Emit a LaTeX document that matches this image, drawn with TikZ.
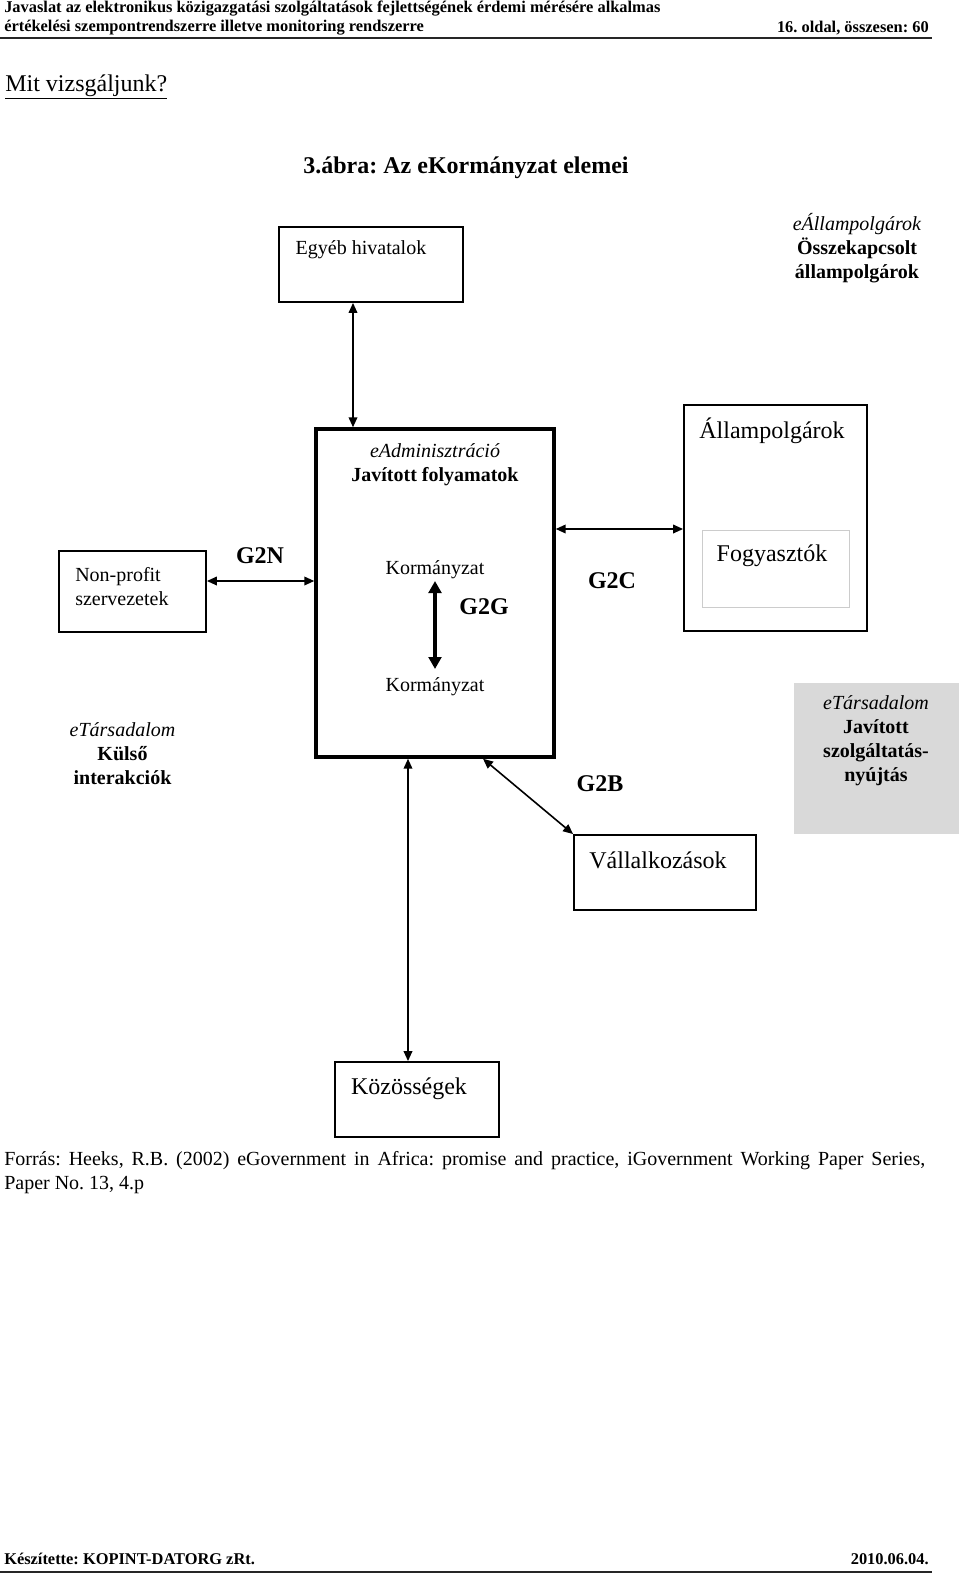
\documentclass[tikz,border=0pt]{standalone}
\usepackage{fontspec}
\setmainfont{Liberation Serif}
\usetikzlibrary{arrows.meta,calc}
\begin{document}
\frenchspacing
\begin{tikzpicture}[x=0.75pt,y=-0.75pt,
  box/.style={draw, line width=1.4pt, inner sep=0pt},
  mainbox/.style={draw, line width=2.6pt, inner sep=0pt},
  lbl/.style={inner sep=0pt, font=\fontsize{15pt}{18pt}\selectfont, align=center},
  big/.style={inner sep=0pt, font=\fontsize{18pt}{21pt}\selectfont},
  gx/.style={inner sep=0pt, font=\fontsize{18pt}{21pt}\selectfont\bfseries},
  hdr/.style={inner sep=0pt, font=\fontsize{12.3pt}{14pt}\selectfont\bfseries},
  conn/.style={line width=1.2pt, {Triangle[length=7.5pt,width=6.5pt]}-{Triangle[length=7.5pt,width=6.5pt]}},
  thickconn/.style={line width=2.4pt, {Triangle[length=9pt,width=9.5pt]}-{Triangle[length=9pt,width=9.5pt]}}
]
\useasboundingbox (0,0) rectangle (960,1575);
% header
\node[hdr, anchor=west] (h1) at (4,9) {Javaslat az elektronikus közigazgatási szolgáltatások fejlettségének érdemi mérésére alkalmas};
\node[hdr, anchor=west] (h2) at (4,28) {értékelési szempontrendszerre illetve monitoring rendszerre};
\node[hdr, anchor=east] (h3) at (929,28) {16. oldal, összesen: 60};
\coordinate (hrl) at (0,38);
\coordinate (hrr) at (932,38);
\draw[line width=1.5pt, black!85] (hrl) -- (hrr);
\node[big, anchor=west] (mit) at (5,87) {\underline{Mit vizsgáljunk?}};
\node[gx] (title) at (466,168) {3.ábra: Az eKormányzat elemei};

% boxes
\node[box, minimum width=138pt, minimum height=56.25pt] (egyeb) at (371,264.5) {};
\node[mainbox, minimum width=178.5pt, minimum height=246pt] (main) at (435,593) {};
\node[box, minimum width=137.25pt, minimum height=169.5pt] (allam) at (775.5,518) {};
\node[draw=black!20, line width=0.6pt, minimum width=110.25pt, minimum height=57.75pt, inner sep=0pt] (fogy) at (775.5,568.5) {};
\node[box, minimum width=110.25pt, minimum height=60.75pt] (nonprofit) at (132.5,591.5) {};
\node[fill=black!15, minimum width=123.75pt, minimum height=113.25pt, inner sep=0pt] (grey) at (876.5,758.5) {};
\node[box, minimum width=136.5pt, minimum height=56.25pt] (vall) at (665,872.5) {};
\node[box, minimum width=123pt, minimum height=56.25pt] (kozos) at (417,1099.5) {};

% texts
\node[lbl] (tegyeb) at (361,250) {Egyéb hivatalok};
\node[lbl] (teall) at (857,248) {\textit{eÁllampolgárok}\\\textbf{Összekapcsolt}\\\textbf{állampolgárok}};
\node[lbl] (tadm) at (435,465) {\textit{eAdminisztráció}\\\textbf{Javított folyamatok}};
\node[big] (tall) at (772,431) {Állampolgárok};
\node[big] (tfogy) at (772,556) {Fogyasztók};
\node[lbl, anchor=west, align=left] (tnp) at (75,587) {Non-profit\\szervezetek};
\node[gx] (g2n) at (260,556) {G2N};
\node[lbl] (korm1) at (435,570) {Kormányzat};
\node[gx] (g2g) at (484,607) {G2G};
\node[lbl] (korm2) at (435,687) {Kormányzat};
\node[gx] (g2c) at (612,581) {G2C};
\node[lbl] (tkul) at (122.5,754) {\textit{eTársadalom}\\\textbf{Külső}\\\textbf{interakciók}};
\node[lbl] (tgrey) at (876,740.5) {\textit{eTársadalom}\\\textbf{Javított}\\\textbf{szolgáltatás-}\\\textbf{nyújtás}};
\node[gx] (g2b) at (600,784) {G2B};
\node[big] (tvall) at (658,860) {Vállalkozások};
\node[big] (tkoz) at (409,1089) {Közösségek};

% source
\node[anchor=north west, inner sep=0pt, text width=690.75pt, align=justify, font=\fontsize{15pt}{18pt}\selectfont] (src) at (4,1151) {Forrás: Heeks, R.B. (2002) eGovernment in Africa: promise and practice, iGovernment Working Paper Series,\linebreak Paper No. 13, 4.p};

% footer
\node[hdr, anchor=west] (f1) at (4,1559) {Készítette: KOPINT-DATORG zRt.};
\node[hdr, anchor=east] (f2) at (929,1559) {2010.06.04.};
\coordinate (frl) at (0,1572);
\coordinate (frr) at (932,1572);
\draw[line width=1.5pt, black!85] (frl) -- (frr);

% connectors
\coordinate (ax) at (353,0);
\draw[conn] (egyeb.south -| ax) -- (main.north -| ax);
\coordinate (g2ny) at (0,581);
\draw[conn] (nonprofit.east |- g2ny) -- (main.west |- g2ny);
\coordinate (g2cy) at (0,529);
\draw[conn] (main.east |- g2cy) -- (allam.west |- g2cy);
\coordinate (g2gt) at (435,581);
\coordinate (g2gb) at (435,669);
\draw[thickconn] (g2gt) -- (g2gb);
\coordinate (bx) at (483,0);
\draw[conn] (main.south -| bx) -- (vall.north west);
\coordinate (kx) at (408,0);
\draw[conn] (main.south -| kx) -- (kozos.north -| kx);
\end{tikzpicture}
\end{document}
